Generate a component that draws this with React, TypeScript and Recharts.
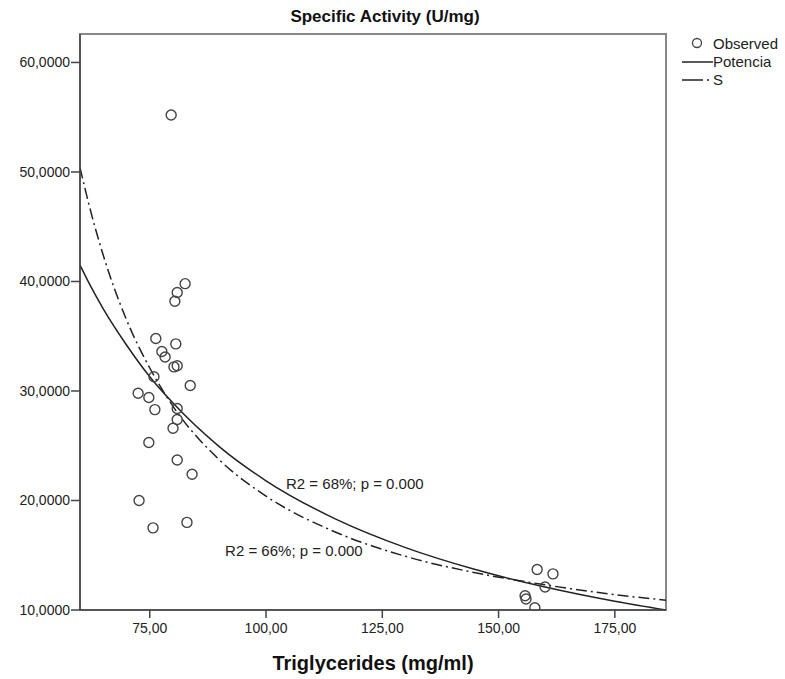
import { ComposedChart, Scatter, Line, XAxis, YAxis, ReferenceArea, ReferenceDot } from 'recharts'

// observed points (triglycerides mg/ml, specific activity U/mg)
const obsX = [79.6, 82.6, 80.9, 80.4, 76.3, 80.6, 77.6, 78.3, 80.2, 80.9, 75.9, 83.7, 72.5, 74.8, 80.9, 76.1, 80.9, 80.0, 74.8, 80.9, 84.1, 72.7, 75.7, 83.0, 158.3, 161.7, 160.0, 155.7, 155.9, 157.8]
const obsY = [55.2, 39.8, 39.0, 38.2, 34.8, 34.3, 33.6, 33.1, 32.2, 32.3, 31.3, 30.5, 29.8, 29.4, 28.4, 28.3, 27.4, 26.6, 25.3, 23.7, 22.4, 20.0, 17.5, 18.0, 13.7, 13.3, 12.1, 11.3, 11.0, 10.2]

// fitted curves
const fitX = [60, 62, 65, 70, 75, 80, 90, 100, 115, 130, 145, 160, 175, 186]
const potenciaY = [41.5, 39.8, 37.5, 34.2, 31.3, 28.9, 24.9, 21.8, 18.3, 15.7, 13.7, 12.1, 10.8, 10.0]
const sCurveY = [50.4, 46.9, 42.4, 36.5, 32.1, 28.6, 23.7, 20.4, 17.1, 14.9, 13.4, 12.3, 11.4, 10.9]

const xTicks = [75, 100, 125, 150, 175]
const yTicks = [10, 20, 30, 40, 50, 60]

const observed = obsX.map((x, i) => ({ x, y: obsY[i] }))
const potencia = fitX.map((x, i) => ({ x, y: potenciaY[i] }))
const sCurve = fitX.map((x, i) => ({ x, y: sCurveY[i] }))

const FONT = '"Liberation Sans", Arial, sans-serif'
const DASH = '11 4 2 4'

const OpenCircle = (props: { cx?: number; cy?: number }) => {
  if (props.cx == null || props.cy == null) return null
  return <circle cx={props.cx} cy={props.cy} r={5} fill="none" stroke="#444" strokeWidth={1.4} />
}

// legend sits outside the plot, top right, like the SPSS output
const LegendBox = () => (
  <div style={{ position: 'absolute', left: 682, top: 35, fontFamily: FONT, fontSize: 15, color: '#222', lineHeight: '18px' }}>
    <div style={{ display: 'flex', alignItems: 'center' }}>
      <svg width={31} height={18}><circle cx={15} cy={8} r={4.5} fill="none" stroke="#444" strokeWidth={1.3} /></svg>
      <span>Observed</span>
    </div>
    <div style={{ display: 'flex', alignItems: 'center' }}>
      <svg width={31} height={18}><line x1={0} y1={9} x2={31} y2={9} stroke="#222" strokeWidth={1.5} /></svg>
      <span>Potencia</span>
    </div>
    <div style={{ display: 'flex', alignItems: 'center' }}>
      <svg width={31} height={18}><line x1={0} y1={9} x2={31} y2={9} stroke="#222" strokeWidth={1.5} strokeDasharray="21 4 2 4" /></svg>
      <span>S</span>
    </div>
  </div>
)

export default function App() {
  return (
    <div style={{ position: 'absolute', left: 0, top: 0, width: 785, height: 679, background: '#fff' }}>
      <div style={{ position: 'absolute', left: 0, width: 770, top: 7, textAlign: 'center', fontFamily: FONT, fontWeight: 700, fontSize: 17, color: '#111' }}>
        Specific Activity (U/mg)
      </div>
      <LegendBox />
      <ComposedChart width={785} height={679} margin={{ top: 34, right: 119, bottom: 9, left: 10 }} style={{ fontFamily: FONT }}>
        <ReferenceArea x1={60} x2={186} y1={10} y2={62.6} fill="none" stroke="#888" strokeWidth={2} />
        <XAxis
          dataKey="x" type="number" domain={[60, 186]} ticks={xTicks} allowDataOverflow
          height={60} tickSize={8} tickMargin={5}
          stroke="#444" strokeWidth={1.5}
          tick={{ fontSize: 14, fill: '#222' }}
          tickFormatter={v => v.toFixed(2).replace('.', ',')}
          label={{ value: 'Triglycerides (mg/ml)', position: 'insideBottom', offset: 0, fontSize: 20, fontWeight: 700, fill: '#111' }}
        />
        <YAxis
          dataKey="y" type="number" domain={[10, 62.6]} ticks={yTicks} allowDataOverflow
          width={70} tickSize={9} tickMargin={1}
          stroke="#444" strokeWidth={1.5}
          tick={{ fontSize: 14, fill: '#222' }}
          tickFormatter={v => v.toFixed(4).replace('.', ',')}
        />
        <Line data={sCurve} dataKey="y" type="monotone" dot={false} stroke="#222" strokeWidth={1.5} strokeDasharray={DASH} isAnimationActive={false} />
        <Line data={potencia} dataKey="y" type="monotone" dot={false} stroke="#222" strokeWidth={1.5} isAnimationActive={false} />
        <Scatter data={observed} dataKey="y" shape={<OpenCircle />} isAnimationActive={false} />
        <ReferenceDot x={104.3} y={21.5} r={0} fill="none" stroke="none"
          label={{ value: 'R2 = 68%; p = 0.000', position: 'right', offset: 0, fontSize: 15, fill: '#222' }} />
        <ReferenceDot x={91.2} y={15.4} r={0} fill="none" stroke="none"
          label={{ value: 'R2 = 66%; p = 0.000', position: 'right', offset: 0, fontSize: 15, fill: '#222' }} />
      </ComposedChart>
    </div>
  )
}
